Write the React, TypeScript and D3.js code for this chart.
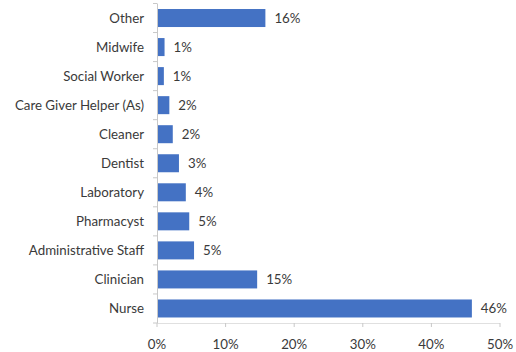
import React from "react";
import * as d3 from "d3";

const categories = [
  "Other",
  "Midwife",
  "Social Worker",
  "Care Giver Helper (As)",
  "Cleaner",
  "Dentist",
  "Laboratory",
  "Pharmacyst",
  "Administrative Staff",
  "Clinician",
  "Nurse",
];
const values = [15.8, 1.1, 1.0, 1.8, 2.3, 3.2, 4.2, 4.7, 5.4, 14.6, 45.9];
const valueLabels = ["16%", "1%", "1%", "2%", "2%", "3%", "4%", "5%", "5%", "15%", "46%"];
const xTicks = [0, 10, 20, 30, 40, 50];

const W = 516;
const H = 352;
const left = 157;
const right = 500;
const top = 3.5;
const bottom = 323;
const font = "Lato, 'Open Sans', sans-serif";
const fs = 13.3;
const textColor = "#3a3a3a";
const barColor = "#4472c4";

export default function App() {
  const x = d3.scaleLinear().domain([0, 50]).range([left, right]);
  const y = d3.scaleBand<string>().domain(categories).range([top, bottom]).paddingInner(0.38).paddingOuter(0.19);
  const bandStep = y.step();
  const boundaries = d3.range(categories.length + 1).map((i) => top + i * bandStep);

  return (
    <svg
      width={W}
      height={H}
      style={{ position: "absolute", left: 0, top: 0, background: "#fff" }}
    >
      {categories.map((c, i) => (
        <rect
          key={c}
          x={x(0)}
          y={y(c)}
          width={x(values[i]) - x(0)}
          height={y.bandwidth()}
          fill={barColor}
        />
      ))}
      {categories.map((c, i) => (
        <text
          key={"v" + c}
          x={x(values[i]) + 9}
          y={(y(c) as number) + y.bandwidth() / 2}
          dy="0.35em"
          fontFamily={font}
          fontSize={fs}
          fill={textColor}
        >
          {valueLabels[i]}
        </text>
      ))}
      <line x1={left + 0.5} x2={left + 0.5} y1={top} y2={bottom} stroke="#c8c8c8" />
      {boundaries.map((b, i) => (
        <line key={"yt" + i} x1={left - 4} x2={left} y1={b} y2={b} stroke="#c8c8c8" />
      ))}
      {categories.map((c) => (
        <text
          key={"l" + c}
          x={left - 13}
          y={(y(c) as number) + y.bandwidth() / 2}
          dy="0.35em"
          textAnchor="end"
          fontFamily={font}
          fontSize={fs}
          fill={textColor}
        >
          {c}
        </text>
      ))}
      <line x1={left} x2={right} y1={bottom + 0.5} y2={bottom + 0.5} stroke="#e0e0e0" />
      {xTicks.map((t) => (
        <g key={"xt" + t}>
          <line x1={x(t)} x2={x(t)} y1={bottom} y2={bottom + 4} stroke="#c8c8c8" />
          <text
            x={x(t)}
            y={344}
            dy="0.35em"
            textAnchor="middle"
            fontFamily={font}
            fontSize={fs}
            fill={textColor}
          >
            {t + "%"}
          </text>
        </g>
      ))}
    </svg>
  );
}
